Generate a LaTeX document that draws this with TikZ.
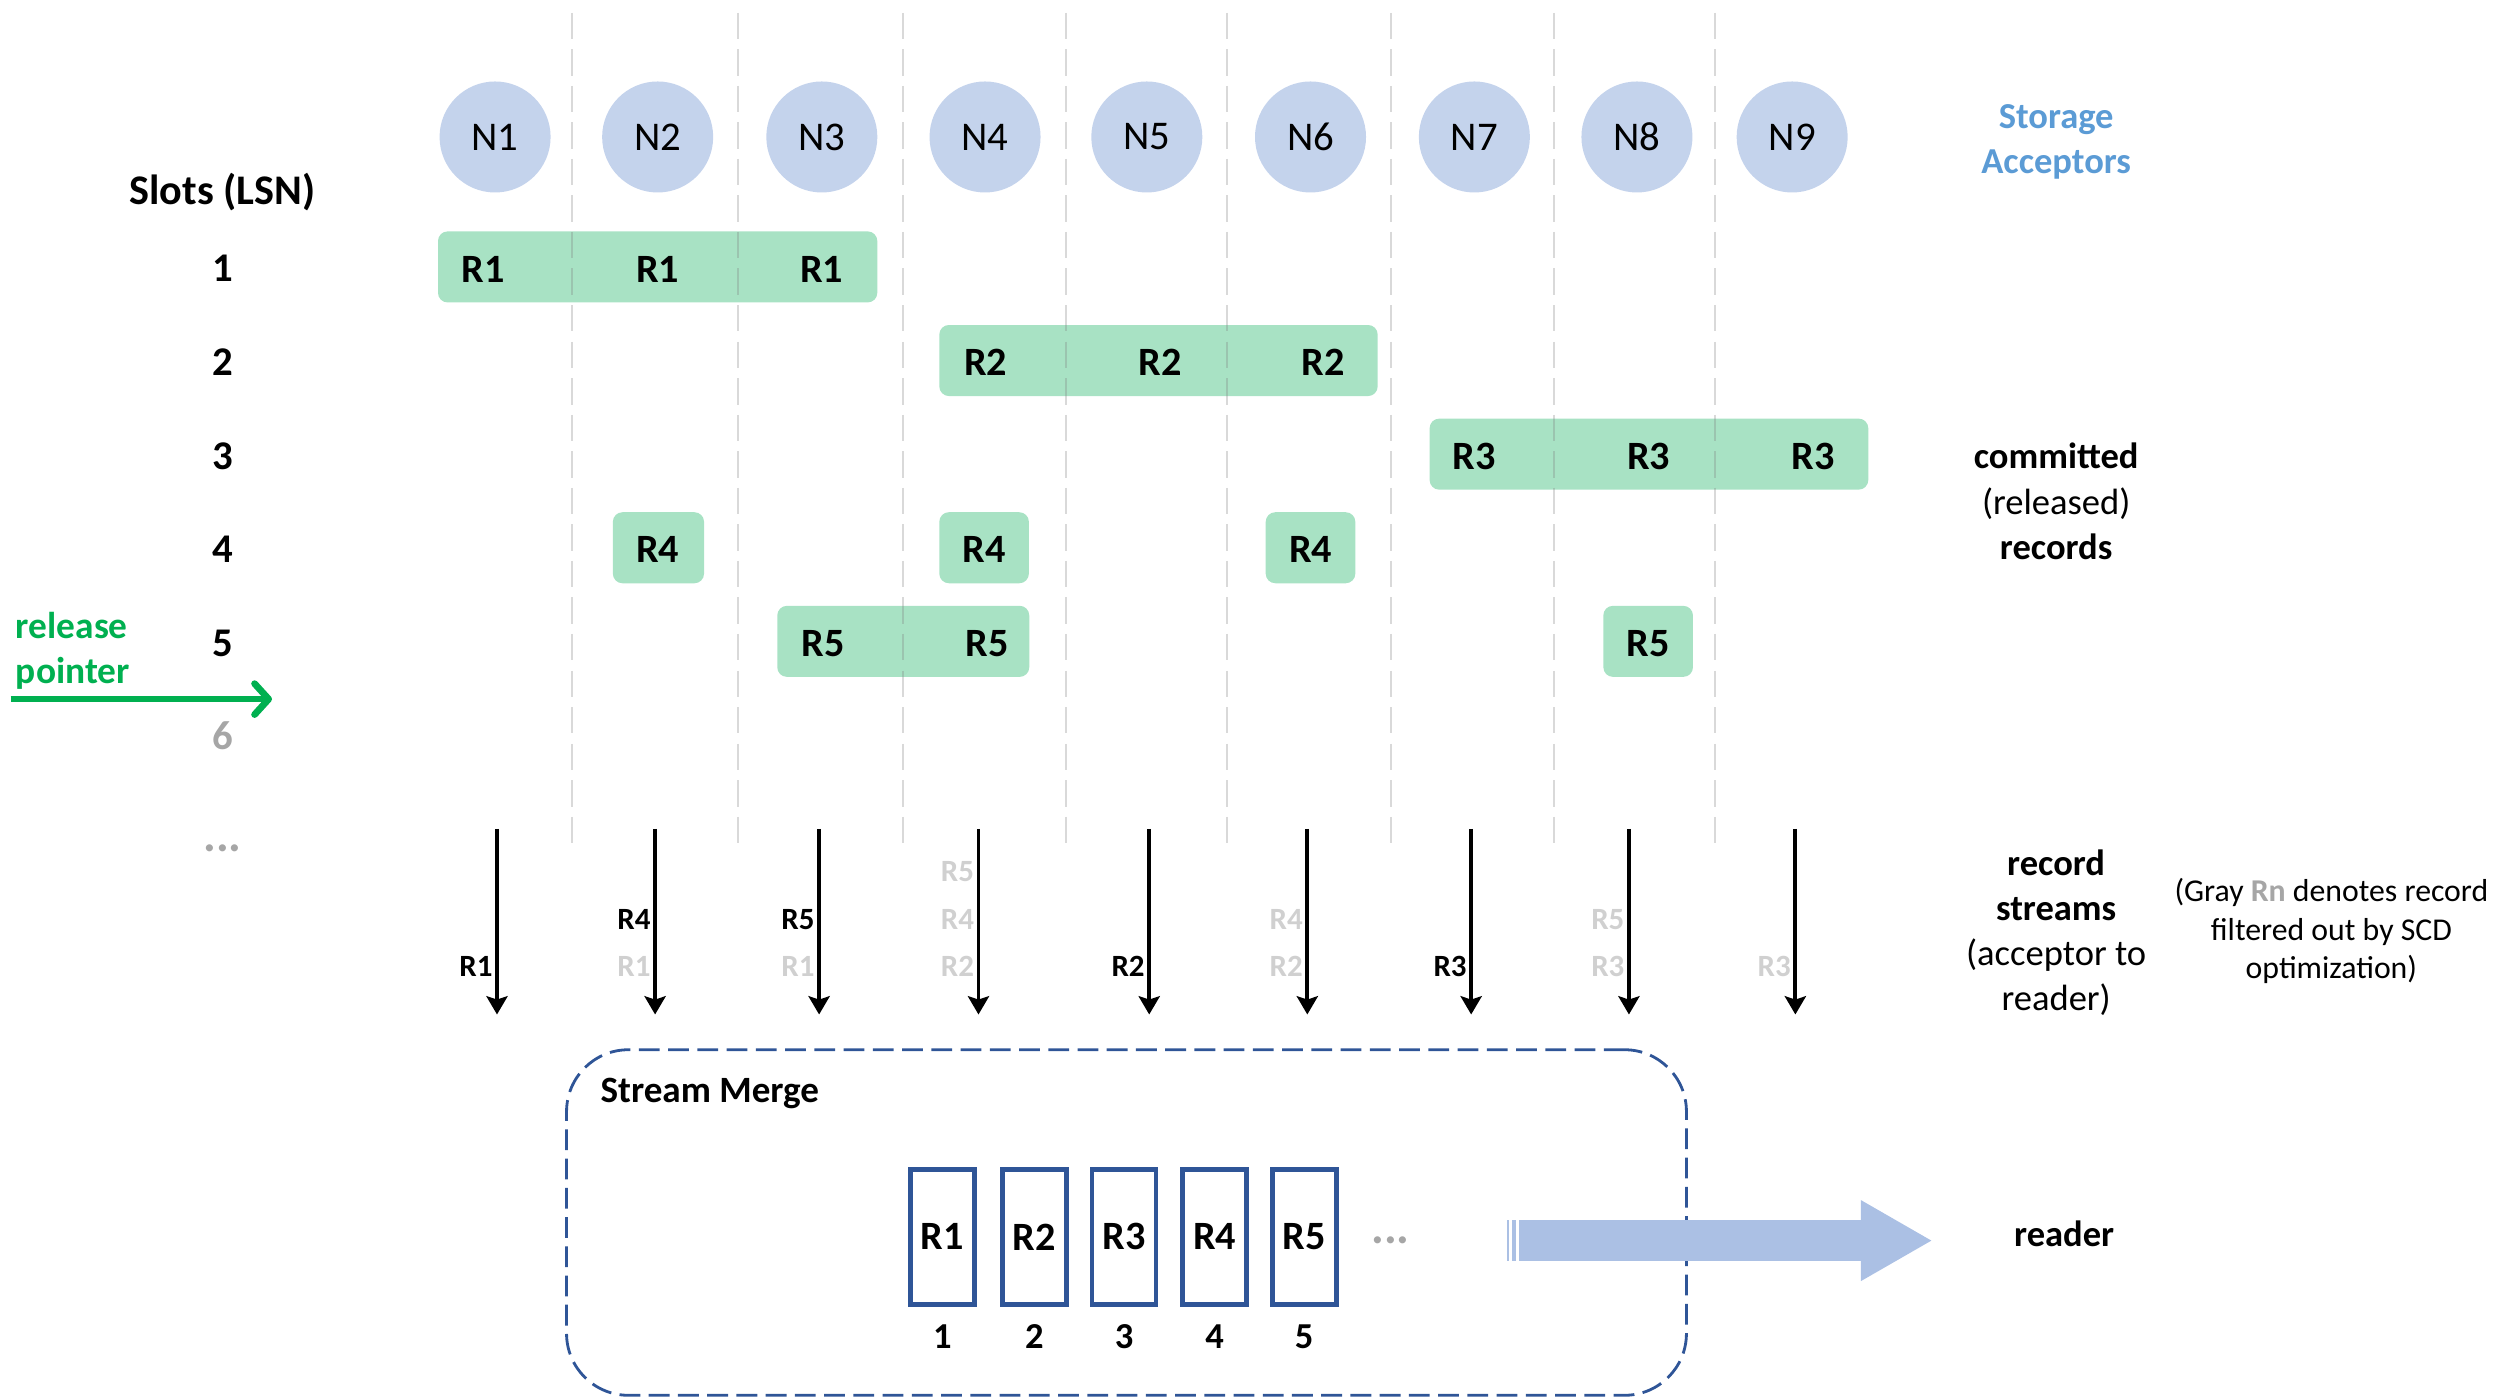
\documentclass[tikz,border=0pt]{standalone}
\usepackage{fontspec}
\setmainfont{Carlito}
\usetikzlibrary{arrows.meta}
\definecolor{accblue}{HTML}{C4D3EC}
\definecolor{bargreen}{HTML}{A8E2C4}
\definecolor{storblue}{HTML}{5B9BD5}
\definecolor{relgreen}{HTML}{00B050}
\definecolor{mergeblue}{HTML}{2F5597}
\definecolor{readerblue}{HTML}{ABC0E4}
\definecolor{filt}{HTML}{D0D0D0}
\definecolor{midgray}{HTML}{A6A6A6}
\tikzset{
  lbl/.style={inner sep=0pt, anchor=base},
  acc/.style={circle, fill=accblue, minimum size=1.388cm, inner sep=0pt, font=\fontsize{14.5}{17}\selectfont},
  bar/.style={rectangle, rounded corners=3.4pt, fill=bargreen, minimum height=0.888cm, inner sep=0pt},
  rec/.style={lbl, font=\fontsize{14.3}{17}\selectfont\bfseries},
  slot/.style={lbl, font=\fontsize{14.5}{17}\selectfont\bfseries},
  side/.style={lbl, font=\fontsize{13}{16}\selectfont},
  sideb/.style={lbl, font=\fontsize{13}{16}\selectfont\bfseries},
  legend/.style={lbl, font=\fontsize{11.3}{14}\selectfont},
  slbl/.style={inner sep=0pt, anchor=base east, font=\fontsize{11}{13}\selectfont\bfseries},
  dots/.style={lbl, text=midgray, font=\fontsize{17}{20}\selectfont\bfseries},
  sepline/.style={draw=black!50, draw opacity=0.3, line width=0.7pt, dash pattern=on 9.4pt off 3.6pt},
  stream/.style={draw=black, line width=1.35pt, -{Stealth[length=6.5pt,width=7.5pt,inset=1.2pt]}},
  relarrow/.style={draw=relgreen, line width=2.4pt, -{Straight Barb[length=5pt,width=11pt,line cap=round,line join=round]}},
  merge/.style={rectangle, draw=mergeblue, line width=1pt, dash pattern=on 7.4pt off 3pt, rounded corners=22pt, minimum width=14cm, minimum height=4.32cm, inner sep=0pt},
  mbox/.style={rectangle, draw=mergeblue, line width=1.7pt, minimum width=0.8cm, minimum height=1.68cm, inner sep=0pt, font=\fontsize{14.3}{17}\selectfont\bfseries},
}
\begin{document}
\begin{tikzpicture}[x=0.02cm, y=-0.02cm]
\useasboundingbox (0,0) rectangle (1568,873);
% storage acceptors
\foreach \x/\i in {309.4/1, 411/2, 513.6/3, 615.6/4, 716.7/5, 819/6, 921.4/7, 1023/8, 1120/9}
  \node[acc] (N\i) at (\x,85.6) {N\i};
\node[sideb, text=storblue] (sa1) at (1285,80.5) {Storage};
\node[sideb, text=storblue] (sa2) at (1285,108.3) {Acceptors};
% slots
\node[lbl, font=\fontsize{15}{18}\selectfont\bfseries] (slots) at (139,127.5) {Slots (LSN)};
\foreach \r/\y in {1/166.8, 2/225.3, 3/283.8, 4/342.3, 5/400.8}
  \node[slot] (sl\r) at (139,\y+9.3) {\r};
\node[slot, text=midgray] (sl6) at (139,468.6) {6};
\node[dots] (sldots) at (139,532) {...};
% record bars
\node[bar, minimum width=5.492cm] (b1) at (411,166.8) {};
\node[bar, minimum width=5.48cm] (b2) at (724,225.3) {};
\node[bar, minimum width=5.484cm] (b3) at (1030.5,283.8) {};
\node[bar, minimum width=1.14cm] (b4a) at (411.5,342.3) {};
\node[bar, minimum width=1.12cm] (b4b) at (615,342.3) {};
\node[bar, minimum width=1.12cm] (b4c) at (819,342.3) {};
\node[bar, minimum width=3.15cm] (b5a) at (564.5,400.8) {};
\node[bar, minimum width=1.12cm] (b5b) at (1030,400.8) {};
% separators
\foreach \x in {357.6, 461.3, 564.4, 666.4, 767, 869, 971, 1072}
  \draw[sepline] (\x,7.9) -- (\x,528);
% bar labels
\foreach \x/\t/\y in {302/R1/166.8, 411/R1/166.8, 513.6/R1/166.8,
    616/R2/225.3, 725/R2/225.3, 827/R2/225.3,
    921.4/R3/283.8, 1030.3/R3/283.8, 1133/R3/283.8,
    411/R4/342.3, 615/R4/342.3, 819/R4/342.3,
    514.3/R5/400.8, 617/R5/400.8, 1030/R5/400.8}
  \node[rec] at (\x,\y+9.5) {\t};
% committed label
\node[sideb] (c1) at (1285,293) {committed};
\node[side] (c2) at (1285,321.3) {(released)};
\node[sideb] (c3) at (1285,349.7) {records};
% release pointer
\node[lbl, anchor=base west, text=relgreen, font=\fontsize{13.3}{16}\selectfont\bfseries] (rp1t) at (9.6,399) {release};
\node[lbl, anchor=base west, text=relgreen, font=\fontsize{13.3}{16}\selectfont\bfseries] (rp2t) at (9.6,427) {pointer};
\coordinate (rpa) at (6.6,436.9);
\coordinate (rpb) at (170,436.9);
\draw[relarrow] (rpa) -- (rpb);
% record streams
\foreach \x/\i in {310.6/1, 409.4/2, 511.9/3, 611.5/4, 718.2/5, 817/6, 919.4/7, 1018/8, 1122/9}{
  \coordinate (st\i) at (\x,518);
  \coordinate (sb\i) at (\x,634);
  \draw[stream] (st\i) -- (sb\i);
}
\foreach \x/\t/\c/\y in {310.6/R1/black/610,
   409.4/R4/black/581, 409.4/R1/filt/610,
   511.9/R5/black/581, 511.9/R1/filt/610,
   611.5/R5/filt/551, 611.5/R4/filt/581, 611.5/R2/filt/610,
   718.2/R2/black/610,
   817/R4/filt/581, 817/R2/filt/610,
   919.4/R3/black/610,
   1018/R5/filt/581, 1018/R3/filt/610,
   1122/R3/filt/610}
  \node[slbl, text=\c] at (\x-2.5,\y) {\t};
\node[sideb] (rs1) at (1285,547) {record};
\node[sideb] (rs2) at (1285,575) {streams};
\node[side] (rs3) at (1285,603.5) {(acceptor to};
\node[side] (rs4) at (1285,631.5) {reader)};
\node[legend] (lg1) at (1457,563.5) {(Gray {\bfseries\color{midgray}Rn} denotes record};
\node[legend] (lg2) at (1457,587.5) {filtered out by SCD};
\node[legend] (lg3) at (1457,611.5) {optimization)};
% stream merge
\node[merge] (sm) at (704,764) {};
\node[lbl, anchor=base west, font=\fontsize{13.2}{16}\selectfont\bfseries] (smt) at (375,689) {Stream Merge};
\foreach \x/\i in {589/1, 646.5/2, 702.5/3, 759/4, 815/5}{
  \node[mbox] (m\i) at (\x,773) {R\i};
  \node[lbl, font=\fontsize{13}{16}\selectfont\bfseries] (mn\i) at (\x,843) {\i};
}
\node[dots] (mdots) at (869,777) {...};
% reader arrow
\fill[readerblue] (949.4,762.5) -- (1163,762.5) -- (1163,750) -- (1207,775.3) -- (1163,800.6) -- (1163,788) -- (949.4,788) -- cycle;
\fill[readerblue] (941.9,762.5) rectangle (943.2,788);
\fill[readerblue] (944.6,762.5) rectangle (947.6,788);
\node[sideb] (reader) at (1290,779) {reader};
\end{tikzpicture}
\end{document}
